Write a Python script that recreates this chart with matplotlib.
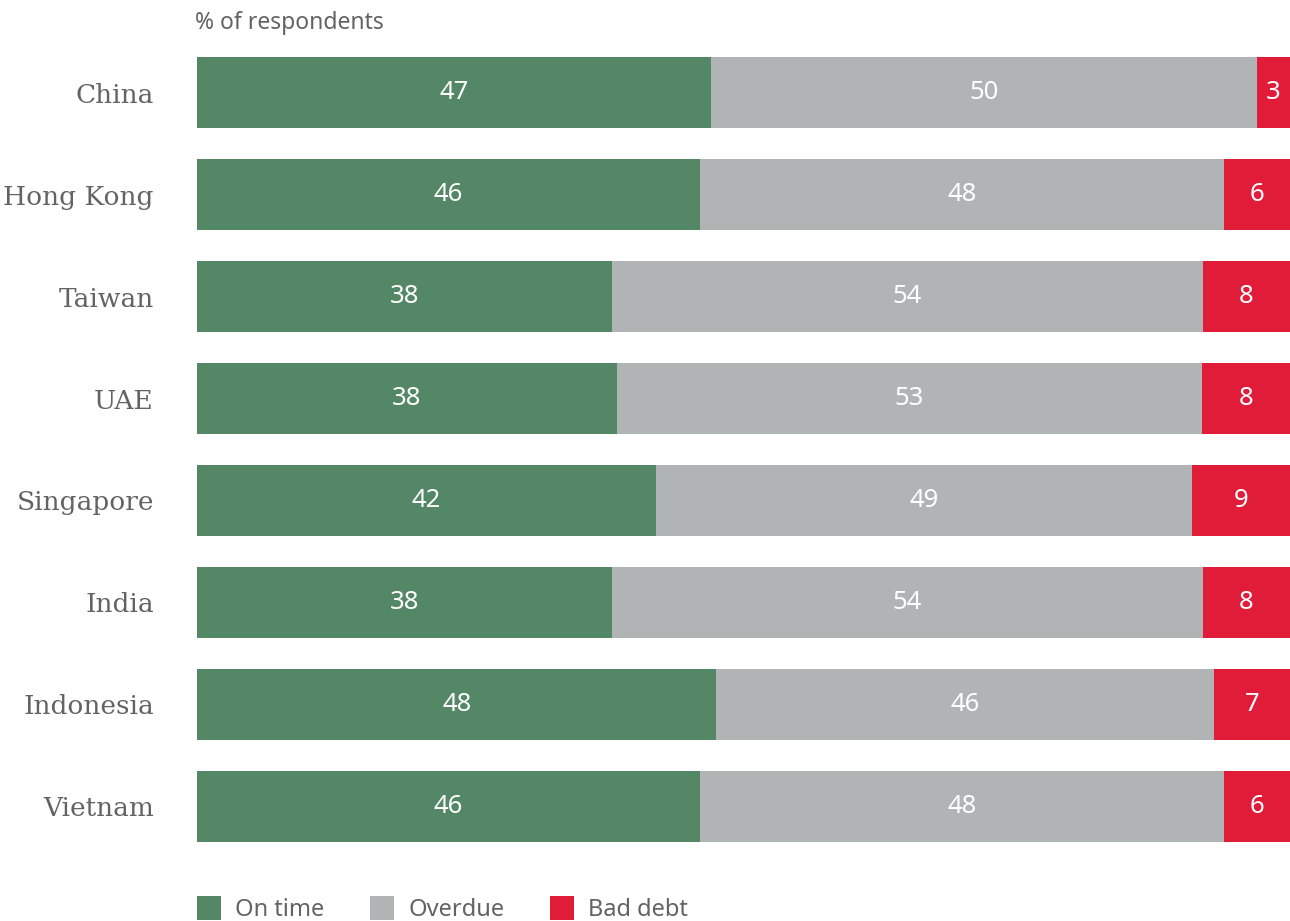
import numpy as np
import matplotlib
matplotlib.use('Agg')
from matplotlib import pyplot as plt
from matplotlib.patches import Patch


countries = ['China', 'Hong Kong', 'Taiwan', 'UAE', 'Singapore', 'India', 'Indonesia', 'Vietnam']
on_time = [47, 46, 38, 38, 42, 38, 48, 46]
overdue = [50, 48, 54, 53, 49, 54, 46, 48]
bad_debt = [3, 6, 8, 8, 9, 8, 7, 6]
series_names = ['On time', 'Overdue', 'Bad debt']
colors = ['#548766', '#b1b4b5', '#e01c38']
text_grey = '#636363'

data = np.array([on_time, overdue, bad_debt], dtype=float)
shares = data / data.sum(axis=0) * 100   # each bar fills 100 %

fig = plt.figure(figsize=(12.9, 9.21), dpi=100)
ax = fig.add_axes([197 / 1290, 1 - 842 / 921, 1 - 197 / 1290, (842 - 57) / 921])

y = np.arange(len(countries))
left = np.zeros(len(countries))
for vals, shr, col in zip(data, shares, colors):
    ax.barh(y, shr, left=left, height=0.7, color=col, linewidth=0)
    for yi, l, s, v in zip(y, left, shr, vals):
        ax.text(l + s / 2, yi, f'{v:.0f}', ha='center', va='center',
                color='white', fontsize=18.5, family='Noto Sans')
    left += shr

ax.set_xlim(0, 100)
ax.set_ylim(len(countries) - 1 + 0.35, -0.35)
ax.set_yticks(y)
ax.set_yticklabels(countries, family='DejaVu Serif', fontsize=19, color=text_grey,
                   va='center_baseline')
ax.tick_params(axis='y', length=0, pad=31)
ax.set_xticks([])
for sp in ax.spines.values():
    sp.set_visible(False)

fig.text(195 / 1290, 1 - 23 / 921, '% of respondents', ha='left', va='center',
         fontsize=16.5, color=text_grey, family='Noto Sans')

handles = [Patch(facecolor=c, edgecolor='none') for c in colors]
fig.legend(handles, series_names, loc='lower left', bbox_to_anchor=(176 / 1290, -0.024),
           ncol=3, frameon=False, labelcolor=text_grey,
           handlelength=1.0, handleheight=1.15, handletextpad=0.6, columnspacing=1.95,
           prop={'family': 'Noto Sans', 'size': 17})

fig.savefig('out.png', dpi=100)
